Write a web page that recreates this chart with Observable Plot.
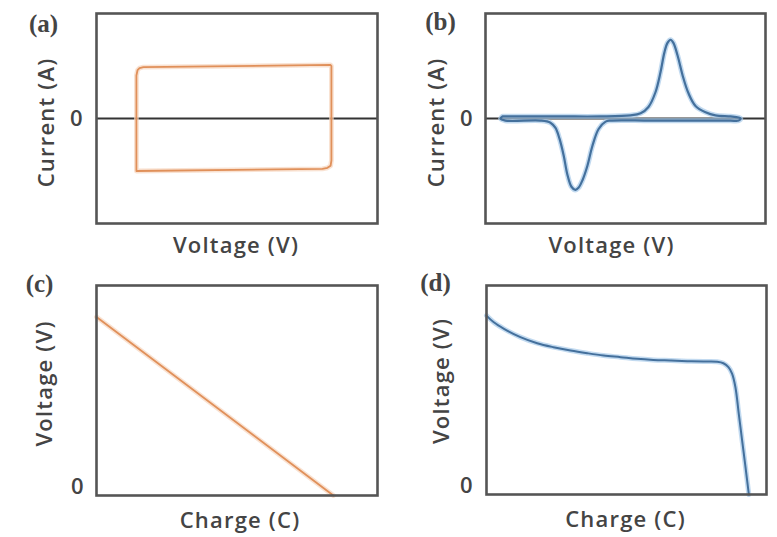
<!DOCTYPE html>
<html><head><meta charset="utf-8">
<script src="https://cdn.jsdelivr.net/npm/d3@7"></script>
<script src="https://cdn.jsdelivr.net/npm/@observablehq/plot@0.6"></script>
<style>
html,body{margin:0;padding:0;background:#fff;}
#fig{position:relative;width:777px;height:537px;overflow:hidden;background:#fff;}
#fig svg{position:absolute;overflow:visible;}
</style></head><body><div id="fig"></div>
<script>
// ---- data ----
const panelLabels = ["(a)", "(b)", "(c)", "(d)"];
const xLabels = ["Voltage (V)", "Voltage (V)", "Charge (C)", "Charge (C)"];
const yLabels = ["Current (A)", "Current (A)", "Voltage (V)", "Voltage (V)"];
const yTickValues = [0];
const yTickText = ["0"];

// (a) capacitive CV loop
const cvA_x = [14.2, 14.2, 14.6, 15.3, 16.7, 83.3, 83.6, 83.6, 83.3, 82.2, 80.4, 14.2];
const cvA_y = [-0.50, 0.41, 0.46, 0.48, 0.49, 0.51, 0.50, -0.40, -0.45, -0.47, -0.48, -0.50];

// (b) battery-type CV loop with redox peaks
const cvB_x = [6.1, 12.5, 26.8, 41.1, 51.8, 55.4, 58.2, 60.7, 62.5, 63.9, 65.0, 66.1, 67.1, 68.6, 70.4, 72.5, 75.0, 78.6, 82.1, 87.5, 90.4, 91.1, 90.4,
  87.5, 76.8, 58.9, 44.6, 42.9, 40.4, 38.2, 36.4, 34.6, 33.2, 32.1, 30.7, 29.3, 27.9, 26.4, 25.0, 23.2, 19.6, 7.1, 5.4, 6.1];
const cvB_y = [0.02, 0.02, 0.02, 0.02, 0.03, 0.05, 0.11, 0.25, 0.44, 0.63, 0.72, 0.75, 0.72, 0.60, 0.41, 0.24, 0.12, 0.06, 0.03, 0.02, 0.01, 0.0, -0.02,
  -0.02, -0.02, -0.02, -0.02, -0.03, -0.10, -0.26, -0.45, -0.59, -0.66, -0.68, -0.65, -0.54, -0.35, -0.19, -0.09, -0.04, -0.02, -0.02, 0.0, 0.02];

// (c) capacitive discharge (linear)
const gcdC_x = [0, 84.3];
const gcdC_y = [0.85, 0];

// (d) battery discharge plateau
const gcdD_x = [0, 2.6, 6.1, 12.1, 18.1, 23.9, 30.0, 36.0, 41.8, 47.9, 53.8, 59.6, 65.7, 71.7, 77.5, 82.4, 84.6, 86.4, 87.7, 88.9, 90.1, 91.3, 92.5, 93.7];
const gcdD_y = [0.856, 0.824, 0.794, 0.753, 0.724, 0.705, 0.689, 0.676, 0.665, 0.657, 0.649, 0.644, 0.641, 0.638, 0.636, 0.635, 0.628, 0.609, 0.578, 0.513, 0.386, 0.258, 0.131, 0.0];

// ---- layout ----
const orange = "#e0905a", orangeHalo = "#f7d6bf";
const blue = "#44709c", blueHalo = "#a8cbea";
const ink = "#444";
const sans = "Open Sans, sans-serif";

const toRows = (xs, ys) => xs.map((x, i) => ({x, y: ys[i]}));

const panels = [
  {rows: toRows(cvA_x, cvA_y), curve: "linear", stroke: orange, halo: orangeHalo, sw: 1.8, yDomain: [-1, 1], zero: true,
   box: [0, 0, 390, 270], m: [13, 13, 47, 96], tag: [-53, 10], tick: [-14, 0], xl: [-1, 14], yl: [-50, 4]},
  {rows: toRows(cvB_x, cvB_y), curve: "catmull-rom", stroke: blue, halo: blueHalo, sw: 2.2, yDomain: [-1, 1], zero: true,
   box: [390, 0, 387, 270], m: [13, 12, 47, 95], tag: [-45, 8], tick: [-13, 0], xl: [-14, 14], yl: [-49, 4]},
  {rows: toRows(gcdC_x, gcdC_y), curve: "linear", stroke: orange, halo: orangeHalo, sw: 1.8, yDomain: [0, 1], zero: false,
   box: [0, 270, 390, 267], m: [15, 13, 42, 96], tag: [-57, -2], tick: [-13, -9], xl: [3, 17], yl: [-52, -7]},
  {rows: toRows(gcdD_x, gcdD_y), curve: "catmull-rom", stroke: blue, halo: blueHalo, sw: 2, yDomain: [0, 1], zero: false,
   box: [390, 270, 387, 267], m: [15, 11, 43, 96], tag: [-51, -3], tick: [-14, -9], xl: [-1, 17], yl: [-45, -9]}
];

const fig = document.getElementById("fig");
panels.forEach((p, i) => {
  const [left, top, width, height] = p.box;
  const [mt, mr, mb, ml] = p.m;
  const svg = Plot.plot({
    width, height,
    marginTop: mt, marginRight: mr, marginBottom: mb, marginLeft: ml,
    style: {fontFamily: sans, fontSize: "20px", color: ink, background: "transparent"},
    x: {domain: [0, 100], axis: null},
    y: {domain: p.yDomain, axis: null},
    marks: [
      p.zero ? Plot.ruleY(yTickValues, {stroke: "#333", strokeWidth: 2}) : null,
      Plot.line(p.rows, {x: "x", y: "y", curve: p.curve, stroke: p.halo, strokeWidth: p.sw + 3, strokeOpacity: 0.7}),
      Plot.line(p.rows, {x: "x", y: "y", curve: p.curve, stroke: p.stroke, strokeWidth: p.sw}),
      Plot.frame({stroke: "#555", strokeWidth: 2.6}),
      Plot.text(yTickValues, {y: d => d, frameAnchor: "left", text: (d, j) => yTickText[j], textAnchor: "end", lineAnchor: "middle",
        dx: p.tick[0], dy: p.tick[1], fontSize: 22, fontWeight: 600, fill: ink, fontFamily: sans}),
      Plot.text([panelLabels[i]], {frameAnchor: "top-left", text: d => d, textAnchor: "middle", lineAnchor: "middle",
        dx: p.tag[0], dy: p.tag[1], fontFamily: "Liberation Serif, serif", fontWeight: "bold", fontSize: 25, fill: "#444"}),
      Plot.text([xLabels[i]], {frameAnchor: "bottom", text: d => d, textAnchor: "middle", lineAnchor: "top",
        dx: p.xl[0], dy: p.xl[1], fontSize: 22, fontWeight: 600, fill: ink, fontFamily: sans}),
      Plot.text([yLabels[i]], {frameAnchor: "left", text: d => d, textAnchor: "middle", lineAnchor: "middle", rotate: -90,
        dx: p.yl[0], dy: p.yl[1], fontSize: 22, fontWeight: 600, fill: ink, fontFamily: sans})
    ]
  });
  svg.style.left = left + "px";
  svg.style.top = top + "px";
  svg.querySelectorAll("text").forEach(t => {
    if (t.textContent.length > 4) t.style.letterSpacing = "1.2px";
  });
  fig.appendChild(svg);
});
</script></body></html>
